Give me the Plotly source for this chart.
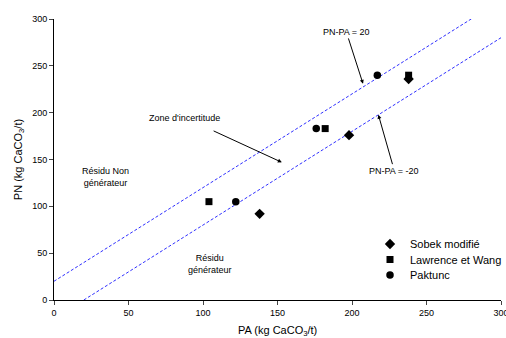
import plotly.graph_objects as go

# Data
sobek_pa = [138, 198, 238]
sobek_pn = [92, 176, 236]
lw_pa = [104, 182, 238]
lw_pn = [105, 183, 240]
pak_pa = [122, 176, 217]
pak_pn = [105, 183, 240]

line_up_pa = [0, 285]
line_up_pn = [20, 305]
line_dn_pa = [20, 305]
line_dn_pn = [0, 285]

x_ticks = [0, 50, 100, 150, 200, 250, 300]
y_ticks = [0, 50, 100, 150, 200, 250, 300]

FONT = "Liberation Sans, Arial, sans-serif"

fig = go.Figure()
for xs, ys in [(line_up_pa, line_up_pn), (line_dn_pa, line_dn_pn)]:
    fig.add_trace(go.Scatter(x=xs, y=ys, mode="lines", showlegend=False,
                             line=dict(color="#3030ff", width=1, dash="3px,2px"),
                             hoverinfo="skip"))

fig.add_trace(go.Scatter(x=sobek_pa, y=sobek_pn, mode="markers", name="Sobek modifié",
                         marker=dict(symbol="diamond", size=8, color="black"), legend="legend"))
fig.add_trace(go.Scatter(x=lw_pa, y=lw_pn, mode="markers", name="Lawrence et Wang",
                         marker=dict(symbol="square", size=7, color="black"), legend="legend2"))
fig.add_trace(go.Scatter(x=pak_pa, y=pak_pn, mode="markers", name="Paktunc",
                         marker=dict(symbol="circle", size=7.5, color="black"), legend="legend3"))

ann_font = dict(family=FONT, size=9, color="black")
arrow = dict(showarrow=True, arrowhead=2, arrowsize=0.8, arrowwidth=1,
             arrowcolor="black", axref="x", ayref="y")
annotations = [
    dict(x=207.4, y=230.8, ax=196.2, ay=286.2, text="PN-PA = 20", font=ann_font, **arrow),
    dict(x=217.7, y=197.8, ax=228.4, ay=138.1, text="PN-PA = -20", font=ann_font, **arrow),
    dict(x=152.9, y=147, ax=87.9, ay=194.6, text="Zone d'incertitude", font=ann_font,
         startstandoff=16, **arrow),
    dict(x=34.8, y=131.7, text="Résidu Non<br>générateur", showarrow=False, font=ann_font),
    dict(x=104.7, y=38.3, text="Résidu<br>générateur", showarrow=False, font=ann_font),
    # x-axis title
    dict(x=0.5, y=-(331 - 300) / 281, xref="paper", yref="paper", yanchor="middle",
         text="PA (kg CaCO<sub>3</sub>/t)", showarrow=False, borderpad=0,
         font=dict(family=FONT, size=11, color="black")),
]

# plot area in px: left 54, right 501, top 19, bottom 300
def leg(ycenter_px):
    return dict(x=(390 - 20 - 54) / 447, y=(300 - ycenter_px) / 281,
                xanchor="left", yanchor="middle",
                font=dict(family=FONT, size=11, color="black"),
                bgcolor="rgba(0,0,0,0)")

fig.update_layout(
    width=506, height=338,
    margin=dict(l=54, r=5, t=19, b=38, autoexpand=False),
    paper_bgcolor="white", plot_bgcolor="white",
    font=dict(family=FONT, size=10, color="black"),
    annotations=annotations,
    legend=leg(244), legend2=leg(259.5), legend3=leg(275),
    xaxis=dict(range=[0, 300], tickvals=x_ticks, ticks="outside", ticklen=4,
               showline=True, linecolor="black", linewidth=1, showgrid=False,
               zeroline=False, tickfont=dict(size=9), automargin=False,
               ticklabeloverflow="allow"),
    yaxis=dict(range=[0, 300], tickvals=y_ticks, ticks="outside", ticklen=4,
               showline=True, linecolor="black", linewidth=1, showgrid=False,
               zeroline=False, tickfont=dict(size=9), automargin=False,
               title=dict(text="PN (kg CaCO<sub>3</sub>/t)", font=dict(size=11), standoff=7)),
)

fig.write_html("out.html", config={"displayModeBar": False},
               post_script="document.body.style.margin='0';document.body.style.overflow='hidden';")
